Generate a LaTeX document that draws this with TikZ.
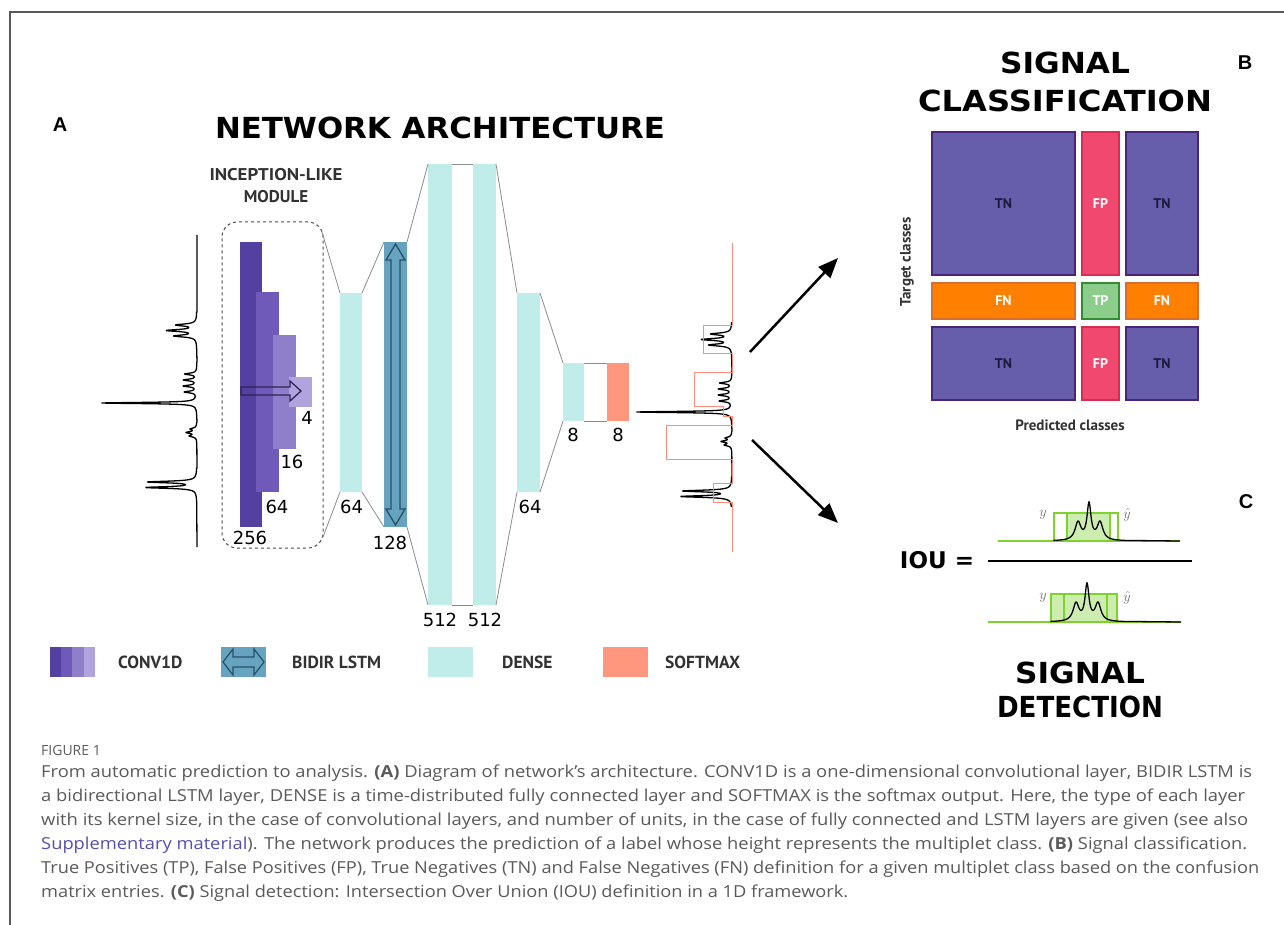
\documentclass[tikz,border=0pt]{standalone}
\usepackage{fontspec}
\usepackage{graphicx}
\usetikzlibrary{arrows.meta}
\newfontfamily\dvsans{DejaVu Sans}
\newfontfamily\ptsans{PT Sans}
\newfontfamily\capfont{Open Sans}
\newfontfamily\arialf{Liberation Sans}
\definecolor{cv1}{RGB}{83,64,160}
\definecolor{cv2}{RGB}{112,90,185}
\definecolor{cv3}{RGB}{143,127,202}
\definecolor{cv4}{RGB}{177,163,222}
\definecolor{densec}{RGB}{192,237,233}
\definecolor{lstmc}{RGB}{102,163,192}
\definecolor{softc}{RGB}{255,150,125}
\definecolor{tnf}{RGB}{102,94,170}
\definecolor{tnd}{RGB}{75,35,125}
\definecolor{fpf}{RGB}{240,72,110}
\definecolor{fpd}{RGB}{215,45,85}
\definecolor{fnf}{RGB}{255,128,0}
\definecolor{fnd}{RGB}{215,110,45}
\definecolor{tpf}{RGB}{140,205,140}
\definecolor{tpd}{RGB}{50,140,50}
\definecolor{grn}{RGB}{125,210,45}
\definecolor{grnfill}{RGB}{205,236,175}
\definecolor{labc}{RGB}{255,140,120}
\definecolor{capg}{RGB}{90,90,90}
\definecolor{linkc}{RGB}{85,80,175}
\definecolor{txtd}{RGB}{50,50,50}
\definecolor{tntext}{RGB}{30,25,60}
\newlength\fitw
\newcommand\fitline[2]{\settowidth\fitw{#2}\pgfmathsetmacro\fitsx{#1/\fitw}\scalebox{\fitsx}[1]{#2}}
\newcommand\spectrumpath{%
  (0,235) -- (0,312)
  -- plot[domain=312:350,samples=191] ({-(20/(1+((\x-325)/1.2)^2)+29/(1+((\x-330.5)/1.2)^2)+22/(1+((\x-336)/1.2)^2))},\x)
  -- (0,362)
  -- plot[domain=362:416,samples=271] ({-(12/(1+((\x-374)/1)^2)+13/(1+((\x-380)/1)^2)+13/(1+((\x-386)/1)^2)+12/(1+((\x-392)/1)^2)+95/(1+((\x-403)/0.7)^2))},\x)
  -- (0,422)
  -- plot[domain=422:446,samples=121] ({-(6/(1+((\x-429)/1.1)^2)+10/(1+((\x-432.5)/1.1)^2)+7/(1+((\x-436)/1.1)^2))},\x)
  -- (0,468)
  -- plot[domain=468:504,samples=181] ({-(48/(1+((\x-482)/1)^2)+50/(1+((\x-487.5)/1)^2))},\x)
  -- (0,547)}
\tikzset{
  bar/.style={inner sep=0,outer sep=0,draw=none},
  conn/.style={draw=black!45,line width=0.8pt},
  num/.style={font=\dvsans\fontsize{18}{20}\selectfont,text=black,inner sep=0},
  sig/.style={draw=black,line width=1.3pt,line join=round},
  cell/.style={inner sep=0,outer sep=0,line width=1.5pt,font=\ptsans\bfseries\fontsize{14}{16}\selectfont},
  legtxt/.style={anchor=west,inner sep=0,text=txtd,font=\ptsans\bfseries\fontsize{17.5}{20}\selectfont},
  panel/.style={inner sep=0,font=\arialf\bfseries\fontsize{20}{22}\selectfont},
  ttl/.style={inner sep=0,font=\dvsans\bfseries\fontsize{29}{34}\selectfont},
  bigarr/.style={line width=2.5pt,-{Triangle[length=20pt,width=16pt]}},
  caption/.style={anchor=base west,inner sep=0,text=capg},
  ylab/.style={inner sep=0,text=black!55,font=\fontsize{14}{16}\selectfont},
}
\begin{document}
\begin{tikzpicture}[x=1pt,y=-1pt]
\useasboundingbox (0,0) rectangle (1284,925);
\fill[white] (0,0) rectangle (1284,925);
% frame
\draw[black!65,line width=1.2pt] (10,925) -- (10,12) -- (1284,12);

% panel letters
\node[panel] (pA) at (60,125) {A};
\node[panel] (pB) at (1245,63) {B};
\node[panel] (pC) at (1246,502) {C};

% title
\node[ttl] (tnet) at (440,127.5) {\fitline{450}{NETWORK ARCHITECTURE}};
\node[inner sep=0,text=txtd,font=\ptsans\bfseries\fontsize{17}{20}\selectfont] (tinc1) at (276,175) {\fitline{133}{INCEPTION-LIKE}};
\node[inner sep=0,text=txtd,font=\ptsans\bfseries\fontsize{17}{20}\selectfont] (tinc2) at (276,197) {MODULE};

% input spectrum
\begin{scope}[shift={(197,0)}]
\draw[sig] \spectrumpath;
\end{scope}

% inception module
\node[draw=black!70,dashed,line width=1pt,rounded corners=15pt,minimum width=101pt,minimum height=326pt,inner sep=0] (incbox) at (272.5,385) {};
\node[bar,fill=cv1,minimum width=22pt,minimum height=285pt] (c256) at (251,384.5) {};
\node[bar,fill=cv2,minimum width=23pt,minimum height=200pt] (c64) at (267.5,392) {};
\node[bar,fill=cv3,minimum width=23pt,minimum height=114pt] (c16) at (284.5,392) {};
\node[bar,fill=cv4,minimum width=23pt,minimum height=30pt] (c4) at (300.5,392) {};
\draw[draw={rgb,255:red,45;green,35;blue,85},line width=1.3pt,line join=miter] (241,387) -- (290,387) -- (290,381) -- (301,391) -- (290,401) -- (290,395) -- (241,395) -- cycle;
\node[num] (l256) at (250,538) {256};
\node[num] (l64c) at (277,507) {64};
\node[num] (l16) at (292,462) {16};
\node[num] (l4) at (307,418) {4};

% layers
\node[bar,fill=densec,minimum width=22pt,minimum height=199pt] (d64a) at (351,392.5) {};
\node[bar,fill=lstmc,minimum width=23pt,minimum height=285pt] (lstm) at (395.5,384.5) {};
\draw[draw={rgb,255:red,40;green,80;blue,100},line width=1.3pt] (395.5,244) -- (405,260) -- (400,260) -- (400,509) -- (405,509) -- (395.5,525) -- (386,509) -- (391,509) -- (391,260) -- (386,260) -- cycle;
\node[bar,fill=densec,minimum width=24pt,minimum height=441pt] (d512a) at (440,384.5) {};
\node[bar,fill=densec,minimum width=23pt,minimum height=441pt] (d512b) at (484.5,384.5) {};
\node[bar,fill=densec,minimum width=23pt,minimum height=199pt] (d64b) at (528.5,392.5) {};
\node[bar,fill=densec,minimum width=21pt,minimum height=58pt] (d8) at (573.5,392) {};
\node[bar,fill=softc,minimum width=22pt,minimum height=58pt] (sm) at (618,392) {};

\coordinate (inA) at (322,232);
\coordinate (inB) at (323,537);
\draw[conn] (inA) -- (d64a.north west);
\draw[conn] (inB) -- (d64a.south west);
\draw[conn] (d64a.north east) -- (lstm.north west);
\draw[conn] (d64a.south east) -- (lstm.south west);
\draw[conn] (lstm.north east) -- (d512a.north west);
\draw[conn] (lstm.south east) -- (d512a.south west);
\draw[conn] (d512a.north east) -- (d512b.north west);
\draw[conn] (d512a.south east) -- (d512b.south west);
\draw[conn] (d512b.north east) -- (d64b.north west);
\draw[conn] (d512b.south east) -- (d64b.south west);
\draw[conn] (d64b.north east) -- (d8.north west);
\draw[conn] (d64b.south east) -- (d8.south west);
\draw[conn] (d8.north east) -- (sm.north west);
\draw[conn] (d8.south east) -- (sm.south west);

\node[num] (l64a) at (351.5,507) {64};
\node[num] (l128) at (390,543) {128};
\node[num] (l512a) at (440,620) {512};
\node[num] (l512b) at (485,620) {512};
\node[num] (l64b) at (530,507) {64};
\node[num] (l8a) at (573,435) {8};
\node[num] (l8b) at (618,435) {8};

% output label and spectrum
\begin{scope}
\clip (600,322) rectangle (760,506);
\begin{scope}[shift={(732,9)}]
\draw[sig] \spectrumpath;
\end{scope}
\end{scope}
\draw[labc,line width=1pt] (732,243)--(732,325)--(703,325)--(703,353)--(732,353)--(732,372)--(694,372)--(694,406)--(723,406)--(723,416)--(732,416)--(732,425)--(666,425)--(666,459)--(732,459)--(732,483)--(713,483)--(713,502)--(732,502)--(732,552);

% big arrows
\coordinate (ar1s) at (750,352);
\coordinate (ar1e) at (838,258);
\coordinate (ar2s) at (752,440);
\coordinate (ar2e) at (838,523);
\draw[bigarr] (ar1s) -- (ar1e);
\draw[bigarr] (ar2s) -- (ar2e);

% legend
\node[bar,fill=cv1,minimum width=11.25pt,minimum height=30pt] (lg1) at (55.6,662) {};
\node[bar,fill=cv2,minimum width=11.25pt,minimum height=30pt] (lg2) at (66.9,662) {};
\node[bar,fill=cv3,minimum width=11.25pt,minimum height=30pt] (lg3) at (78.1,662) {};
\node[bar,fill=cv4,minimum width=11.25pt,minimum height=30pt] (lg4) at (89.4,662) {};
\node[legtxt] (lgt1) at (118,662) {CONV1D};
\node[bar,fill=lstmc,minimum width=45pt,minimum height=30pt] (lgl) at (243.5,662) {};
\draw[draw={rgb,255:red,40;green,80;blue,100},line width=1.2pt] (223,662) -- (233,649) -- (233,657) -- (254,657) -- (254,649) -- (264,662) -- (254,675) -- (254,667) -- (233,667) -- (233,675) -- cycle;
\node[legtxt] (lgt2) at (292,662) {BIDIR LSTM};
\node[bar,fill=densec,minimum width=45pt,minimum height=30pt] (lgd) at (450.5,662) {};
\node[legtxt] (lgt3) at (502,662) {DENSE};
\node[bar,fill=softc,minimum width=45pt,minimum height=30pt] (lgs) at (625,662) {};
\node[legtxt] (lgt4) at (665,662) {SOFTMAX};

% panel B
\node[ttl] (tsig1) at (1065,63) {\fitline{130}{SIGNAL}};
\node[ttl] (tcls) at (1065,101) {\fitline{294}{CLASSIFICATION}};
\node[cell,draw=tnd,fill=tnf,text=tntext,minimum width=143pt,minimum height=143pt] (tn11) at (1003.5,203.5) {TN};
\node[cell,draw=fpd,fill=fpf,text=white,minimum width=37pt,minimum height=143pt] (fp1) at (1100.5,203.5) {FP};
\node[cell,draw=tnd,fill=tnf,text=tntext,minimum width=72pt,minimum height=143pt] (tn13) at (1162,203.5) {TN};
\node[cell,draw=fnd,fill=fnf,text=white,minimum width=143pt,minimum height=36pt] (fn1) at (1003.5,301) {FN};
\node[cell,draw=tpd,fill=tpf,text=white,minimum width=37pt,minimum height=36pt] (tp) at (1100.5,301) {TP};
\node[cell,draw=fnd,fill=fnf,text=white,minimum width=72pt,minimum height=36pt] (fn2) at (1162,301) {FN};
\node[cell,draw=tnd,fill=tnf,text=tntext,minimum width=143pt,minimum height=73pt] (tn31) at (1003.5,363.5) {TN};
\node[cell,draw=fpd,fill=fpf,text=white,minimum width=37pt,minimum height=73pt] (fp3) at (1100.5,363.5) {FP};
\node[cell,draw=tnd,fill=tnf,text=tntext,minimum width=72pt,minimum height=73pt] (tn33) at (1162,363.5) {TN};
\node[rotate=90,inner sep=0,text=txtd,font=\ptsans\bfseries\fontsize{15}{18}\selectfont] (tgt) at (907,262) {Target classes};
\node[inner sep=0,text=txtd,font=\ptsans\bfseries\fontsize{15}{18}\selectfont] (prd) at (1070,425) {Predicted classes};

% panel C
\node[inner sep=0,font=\dvsans\bfseries\fontsize{23}{26}\selectfont] (iou) at (937,560) {IOU =};
\coordinate (frl) at (988,561);
\coordinate (frr) at (1192,561);
\draw[line width=1.5pt] (frl) -- (frr);
% numerator
\fill[grnfill] (1067,513) rectangle (1110,541);
\draw[grn,line width=1.5pt] (998,541) -- (1180,541);
\draw[grn,line width=1.5pt] (1054,541) -- (1054,513) -- (1110,513) -- (1110,541);
\draw[grn,line width=1.5pt] (1067,541) -- (1067,513) -- (1118,513) -- (1118,541);
\draw[sig] (1054,541) -- plot[domain=1054:1126,samples=145] (\x,{541-(18/(1+((\x-1078)/3.5)^2)+36/(1+((\x-1089)/2.4)^2)+18/(1+((\x-1100)/3.5)^2))}) -- (1180,541);
\node[ylab] (ny1) at (1043,515) {$y$};
\node[ylab] (nyh1) at (1127,515) {$\hat{y}$};
% denominator
\fill[grnfill] (1051,594) rectangle (1117,622);
\draw[grn,line width=1.5pt] (988,622) -- (1181,622);
\draw[grn,line width=1.5pt] (1051,622) -- (1051,594) -- (1107,594) -- (1107,622);
\draw[grn,line width=1.5pt] (1064,622) -- (1064,594) -- (1117,594) -- (1117,622);
\draw[sig] (1051,622) -- plot[domain=1051:1123,samples=145] (\x,{622-(18/(1+((\x-1076)/3.5)^2)+36/(1+((\x-1087)/2.4)^2)+18/(1+((\x-1098)/3.5)^2))}) -- (1181,622);
\node[ylab] (ny2) at (1043,598) {$y$};
\node[ylab] (nyh2) at (1127,598) {$\hat{y}$};
\node[ttl] (tsig2) at (1080,673) {\fitline{130}{SIGNAL}};
\node[ttl] (tdet) at (1080,707) {\fitline{166}{DETECTION}};

% caption
\node[caption,font=\capfont\fontsize{14}{16}\selectfont] (fig) at (41,755) {FIGURE 1};
\node[caption,font=\capfont\fontsize{16.5}{20}\selectfont] (cap1) at (41,777) {\fitline{1211}{From automatic prediction to analysis. \textbf{(A)} Diagram of network’s architecture. CONV1D is a one-dimensional convolutional layer, BIDIR LSTM is}};
\node[caption,font=\capfont\fontsize{16.5}{20}\selectfont] (cap2) at (41,801) {\fitline{1204}{a bidirectional LSTM layer, DENSE is a time-distributed fully connected layer and SOFTMAX is the softmax output. Here, the type of each layer}};
\node[caption,font=\capfont\fontsize{16.5}{20}\selectfont] (cap3) at (41,825) {\fitline{1207}{with its kernel size, in the case of convolutional layers, and number of units, in the case of fully connected and LSTM layers are given (see also}};
\node[caption,font=\capfont\fontsize{16.5}{20}\selectfont] (cap4) at (41,849) {\fitline{1206}{{\color{linkc}Supplementary material}). The network produces the prediction of a label whose height represents the multiplet class. \textbf{(B)} Signal classification.}};
\node[caption,font=\capfont\fontsize{16.5}{20}\selectfont] (cap5) at (41,873) {\fitline{1218}{True Positives (TP), False Positives (FP), True Negatives (TN) and False Negatives (FN) definition for a given multiplet class based on the confusion}};
\node[caption,font=\capfont\fontsize{16.5}{20}\selectfont] (cap6) at (41,897) {\fitline{807}{matrix entries. \textbf{(C)} Signal detection: Intersection Over Union (IOU) definition in a 1D framework.}};
\end{tikzpicture}
\end{document}
